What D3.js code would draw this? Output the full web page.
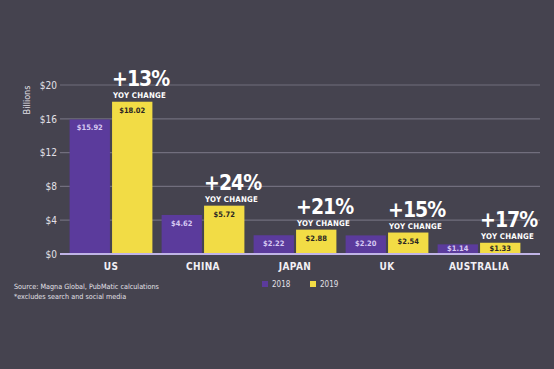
<!DOCTYPE html>
<html><head><meta charset="utf-8">
<script src="https://cdn.jsdelivr.net/npm/d3@7"></script>
<style>
html,body{margin:0;padding:0;background:#45434f;}
svg{display:block;}
text{font-family:"DejaVu Sans Condensed","DejaVu Sans",sans-serif;font-stretch:condensed;}
</style></head>
<body><svg id="c" width="554" height="369"></svg>
<script>
const categories = ["US","CHINA","JAPAN","UK","AUSTRALIA"];
const series = ["2018","2019"];
const values2018 = [15.92,4.62,2.22,2.20,1.14];
const values2019 = [18.02,5.72,2.88,2.54,1.33];
const yoyLabels = ["+13%","+24%","+21%","+15%","+17%"];
const yTicks = [0,4,8,12,16,20];

const colors = {"2018":"#5b3b9c","2019":"#f2dc45"};
const FF = "'DejaVu Sans Condensed','DejaVu Sans',sans-serif";
const svg = d3.select("#c");
svg.append("rect").attr("width",554).attr("height",369).attr("fill","#45434f");

const y = d3.scaleLinear().domain([0,20]).range([254,85]);
const x0 = d3.scaleBand().domain(categories).range([65,525]).paddingInner(0.1).paddingOuter(0.05);
const x1 = d3.scaleBand().domain(series).range([0,x0.bandwidth()]).paddingInner(0.05);

// grid
const grid = svg.append("g");
yTicks.filter(t=>t>0).forEach(t=>{
  grid.append("line").attr("x1",60).attr("x2",540).attr("y1",y(t)).attr("y2",y(t))
    .attr("stroke","#716e7d").attr("stroke-width",1.2);
});
// y axis labels
const yAxis = d3.axisLeft(y).tickValues(yTicks).tickSize(0).tickPadding(0).tickFormat(d=>"$"+d);
const ga = svg.append("g").attr("transform","translate(57,0)").call(yAxis);
ga.select(".domain").remove();
ga.selectAll("text").attr("fill","#e2e0e8").attr("font-size",10).style("font-family",FF);

svg.append("text").attr("transform","translate(30,100) rotate(-90)").attr("text-anchor","middle")
  .attr("fill","#e2e0e8").attr("font-size",9).text("Billions");

const data = categories.map((c,i)=>({c,i,v:{"2018":values2018[i],"2019":values2019[i]}}));

const groups = svg.append("g").selectAll("g").data(data).join("g")
  .attr("transform",d=>`translate(${x0(d.c)},0)`);

series.forEach(s=>{
  groups.append("rect").attr("x",x1(s)).attr("width",x1.bandwidth())
    .attr("y",d=>y(d.v[s])).attr("height",d=>y(0)-y(d.v[s])).attr("fill",colors[s]);
  groups.append("text").attr("x",x1(s)+x1.bandwidth()/2).attr("y",d=>Math.min(y(d.v[s])+11, y(0)-3))
    .attr("text-anchor","middle").attr("font-size",7.5).attr("font-weight","bold")
    .attr("fill",s==="2018"?"#d6c8f2":"#2b2624")
    .text(d=>"$"+d.v[s].toFixed(2));
});

// YoY annotations
groups.append("text").attr("x",x1("2019")).attr("y",d=>y(d.v["2019"])-16)
  .attr("font-size",21).attr("font-weight","bold").attr("fill","#ffffff").attr("letter-spacing",-1)
  .text(d=>yoyLabels[d.i]);
groups.append("text").attr("x",x1("2019")+1).attr("y",d=>y(d.v["2019"])-4)
  .attr("font-size",7.8).attr("font-weight","bold").attr("fill","#ffffff").attr("letter-spacing",0.2)
  .text("YOY CHANGE");

// baseline
svg.append("line").attr("x1",60).attr("x2",540).attr("y1",y(0)).attr("y2",y(0))
  .attr("stroke","#c0b4e6").attr("stroke-width",2);

// category labels
const xAxis = d3.axisBottom(x0).tickSize(0).tickPadding(0);
const gx = svg.append("g").attr("transform",`translate(0,${y(0)+16})`).call(xAxis);
gx.select(".domain").remove();
gx.selectAll("text").attr("dy",0).attr("fill","#f2f0f5").attr("font-size",10).attr("font-weight","bold")
  .attr("letter-spacing",0.4).style("font-family",FF);

// source
svg.append("text").attr("x",14).attr("y",289).attr("fill","#e2e0e8").attr("font-size",7.2)
  .text("Source: Magna Global, PubMatic calculations");
svg.append("text").attr("x",14).attr("y",299).attr("fill","#e2e0e8").attr("font-size",7.2)
  .text("*excludes search and social media");

// legend
const leg = svg.append("g");
series.forEach((s,i)=>{
  const lx = 262 + i*48;
  leg.append("rect").attr("x",lx).attr("y",281).attr("width",6).attr("height",6).attr("fill",colors[s]);
  leg.append("text").attr("x",lx+10).attr("y",287).attr("fill","#e2e0e8").attr("font-size",8).text(s);
});
</script></body></html>
